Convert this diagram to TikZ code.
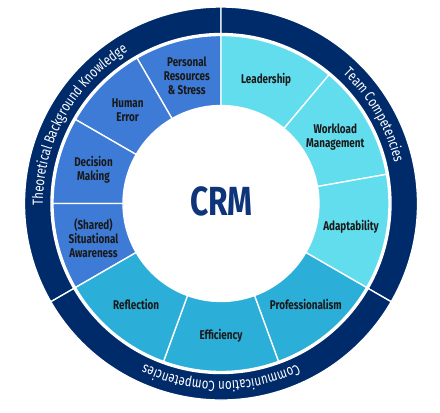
\documentclass[tikz,border=0pt]{standalone}
\usepackage{fontspec}
\setmainfont[FakeStretch=0.78]{Fira Sans}
\usetikzlibrary{decorations.text}
\definecolor{ringnavy}{HTML}{002B6B}
\definecolor{theoryblue}{HTML}{3E7BD7}
\definecolor{teamcyan}{HTML}{62DDEE}
\definecolor{commcyan}{HTML}{2BAFD8}
\definecolor{crmtext}{HTML}{0E3579}
\def\ringsector[#1](#2:#3:#4:#5){\draw[#1] (#2:#5) arc (#2:#3:#5) -- (#3:#4) arc (#3:#2:#4) -- cycle;}
\tikzset{
  seglabel/.style={align=center, text=black!90, font=\fontsize{9.5}{10.5}\selectfont\bfseries},
  ringtext/.style={decorate, decoration={text along path, text align=center, text={|\color{white}\fontsize{11}{12}\selectfont|#1}}}
}

\begin{document}
\begin{tikzpicture}[x=0.75pt, y=0.75pt]
	%%%%% FRAME %%%%%
	\useasboundingbox[fill=white] (-221, -208.5) rectangle (219, 203.5);
	
	%%%%% OUTER RING %%%%%
	\ringsector[fill=ringnavy, draw=white, line width=1pt](90:210:170:196.5);
	\ringsector[fill=ringnavy, draw=white, line width=1pt](-30:90:170:196.5);
	\ringsector[fill=ringnavy, draw=white, line width=1pt](210:330:170:196.5);
	
	\path[ringtext={Theoretical Background Knowledge}] (211:178) arc (211:91:178);
	\path[ringtext={Team Competencies}] (90:178) arc (90:-30:178);
	\path[ringtext={Communication Competencies}] (-30:178) arc (-30:-150:178);
	
	%%%%% SEGMENTS %%%%%
	\ringsector[fill=theoryblue, draw=white, line width=1pt](90:120:98:168);
	\ringsector[fill=theoryblue, draw=white, line width=1pt](120:150:98:168);
	\ringsector[fill=theoryblue, draw=white, line width=1pt](150:180:98:168);
	\ringsector[fill=theoryblue, draw=white, line width=1pt](180:210:98:168);
	
	\ringsector[fill=teamcyan, draw=white, line width=1pt](50:90:98:168);
	\ringsector[fill=teamcyan, draw=white, line width=1pt](10:50:98:168);
	\ringsector[fill=teamcyan, draw=white, line width=1pt](-30:10:98:168);
	
	\ringsector[fill=commcyan, draw=white, line width=1pt](-70:-30:98:168);
	\ringsector[fill=commcyan, draw=white, line width=1pt](-110:-70:98:168);
	\ringsector[fill=commcyan, draw=white, line width=1pt](-150:-110:98:168);
	
	%%%%% LABELS %%%%%
	\node[seglabel] (stress) at (105:132) {Personal\\Resources\\\&\,Stress};
	\node[seglabel] (humanerror) at (135:132) {Human\\Error};
	\node[seglabel] (decision) at (165:132) {Decision\\Making};
	\node[seglabel] (awareness) at (195:132) {(Shared)\\Situational\\Awareness};
	
	\node[seglabel] (leadership) at (70:132) {Leadership};
	\node[seglabel] (workload) at (30:132) {Workload\\Management};
	\node[seglabel] (adapt) at (-10:132) {Adaptability};
	
	\node[seglabel] (profess) at (-50:132) {Professionalism};
	\node[seglabel] (efficiency) at (-90:132) {Efficiency};
	\node[seglabel] (reflection) at (-130:132) {Reflection};
	
	\node[text=crmtext, font=\fontsize{30.5}{33}\selectfont\bfseries] (crm) at (0.5, 2) {CRM};
\end{tikzpicture}
\end{document}
